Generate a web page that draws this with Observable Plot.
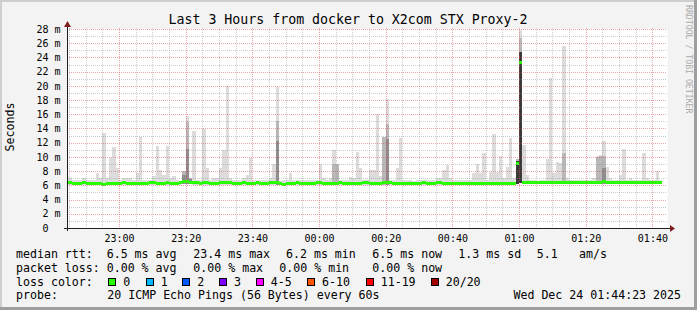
<!DOCTYPE html>
<html><head><meta charset="utf-8">
<script src="https://cdn.jsdelivr.net/npm/d3@7"></script>
<script src="https://cdn.jsdelivr.net/npm/@observablehq/plot@0.6"></script>
<style>
body{margin:0;background:#f3f3f3;}
#chart{width:697px;height:310px;}
text{white-space:pre;}
</style></head><body><div id="chart"></div>
<script>
// ---- data ----
const title = "Last 3 Hours from docker to X2com STX Proxy-2";
const firstMinute = "2025-12-23T22:44:00Z";
const windowStart = "2025-12-23T22:44:23Z";
const windowEnd = "2025-12-24T01:44:23Z";
const xTickLabels = ["23:00","23:20","23:40","00:00","00:20","00:40","01:00","01:20","01:40"];
const yTickValues = [0,2,4,6,8,10,12,14,16,18,20,22,24,26,28];
const yTickLabels = ["0\u00a0\u00a0","2 m","4 m","6 m","8 m","10 m","12 m","14 m","16 m","18 m","20 m","22 m","24 m","26 m","28 m"];

// median rtt per minute (ms)
const medians = [
6.45,6.42,6.40,6.38,6.40,6.42,6.40,6.36,6.34,6.30,6.28,6.26,6.34,6.30,6.32,6.36,6.40,6.42,6.40,6.38,
6.40,6.36,6.34,6.38,6.40,6.42,6.44,6.40,6.38,6.40,6.42,6.40,6.38,6.36,6.45,6.55,6.65,6.52,6.46,6.42,
6.40,6.42,6.44,6.40,6.38,6.40,6.42,6.44,6.46,6.42,6.40,6.38,6.40,6.42,6.40,6.38,6.40,6.42,6.40,6.38,
6.40,6.42,6.44,6.46,6.30,6.26,6.30,6.36,6.40,6.42,6.38,6.40,6.36,6.38,6.40,6.42,6.44,6.40,6.30,6.32,
6.36,6.40,6.42,6.38,6.36,6.34,6.32,6.36,6.40,6.42,6.44,6.40,6.38,6.36,6.40,6.44,6.48,6.42,6.38,6.34,
6.32,6.36,6.40,6.38,6.34,6.36,6.40,6.42,6.38,6.36,6.40,6.42,6.44,6.38,6.32,6.34,6.36,6.40,6.38,6.34,
6.36,6.32,6.30,6.34,6.36,6.38,6.40,6.36,6.32,6.34,6.36,6.38,6.40,6.36,6.40,9.10,23.40,6.50,6.48,6.46,
6.44,6.46,6.48,6.46,6.44,6.46,6.48,6.46,6.44,6.50,6.48,6.46,6.48,6.50,6.48,6.46,6.48,6.50,6.52,6.50,
6.54,6.58,6.50,6.48,6.46,6.48,6.46,6.48,6.50,6.48,6.46,6.48,6.50,6.48,6.46,6.48,6.46,6.48,6.50];

// lowest ping per minute (ms)
const smokeMin = [
6.1,6.1,6.1,6.1,6.1,6.1,6.1,6.1,6.0,6.0,6.0,6.0,6.1,6.0,6.0,6.1,6.1,6.1,6.1,6.1,
6.1,6.1,6.1,6.1,6.1,6.1,6.1,6.1,6.1,6.1,6.1,6.1,6.1,6.1,6.1,6.2,6.2,6.2,6.1,6.1,
6.1,6.1,6.1,6.1,6.1,6.1,6.1,6.1,6.1,6.1,6.1,6.1,6.1,6.1,6.1,6.1,6.1,6.1,6.1,6.1,
6.1,6.1,6.1,6.1,6.0,6.0,6.0,6.1,6.1,6.1,6.1,6.1,6.1,6.1,6.1,6.1,6.1,6.1,6.0,6.0,
6.1,6.1,6.1,6.1,6.1,6.0,6.0,6.1,6.1,6.1,6.1,6.1,6.1,6.1,6.1,6.1,6.1,6.1,6.1,6.0,
6.0,6.1,6.1,6.1,6.0,6.1,6.1,6.1,6.1,6.1,6.1,6.1,6.1,6.1,6.0,6.0,6.1,6.1,6.1,6.0,
6.1,6.0,6.0,6.0,6.1,6.1,6.1,6.1,6.0,6.1,6.1,6.1,6.1,6.1,6.1,6.2,6.3,6.2,6.2,6.2,
6.2,6.2,6.2,6.2,6.2,6.2,6.2,6.2,6.2,6.2,6.2,6.2,6.2,6.2,6.2,6.2,6.2,6.2,6.2,6.2,
6.2,6.2,6.2,6.2,6.2,6.2,6.2,6.2,6.2,6.2,6.2,6.2,6.2,6.2,6.2,6.2,6.2,6.2,6.2];

// highest ping per minute (ms)
const smokeMax = [
7.2,7.1,6.8,6.7,6.7,7.0,6.7,6.7,6.8,7.8,7.0,13.4,7.0,9.9,11.4,8.5,6.7,7.0,7.0,7.1,
6.8,7.7,12.8,6.8,6.7,6.8,7.3,11.5,8.2,7.5,11.5,7.0,7.3,6.7,6.6,8.0,15.8,7.0,13.7,6.7,
6.7,13.9,8.4,6.7,7.0,7.0,8.5,11.0,20.0,7.0,6.7,6.7,6.8,7.0,7.4,9.9,6.8,6.7,6.7,6.7,
6.7,7.0,9.0,19.8,6.6,6.7,6.7,7.8,6.8,6.7,6.7,6.7,6.7,6.7,6.8,6.7,9.0,7.0,6.7,7.0,
11.0,9.0,6.8,6.7,6.7,7.2,7.1,10.7,8.5,6.8,6.7,8.2,8.2,16.0,7.3,12.8,18.1,6.7,6.8,8.4,
12.6,6.7,6.8,6.7,6.6,6.7,6.7,6.8,6.7,6.7,6.8,7.0,7.1,8.1,8.9,7.1,6.7,6.7,6.8,6.7,
6.7,6.8,7.8,9.0,7.8,10.6,6.8,7.9,13.2,7.9,10.1,7.0,8.6,12.6,7.0,9.7,27.8,11.7,7.4,6.7,
6.8,6.6,6.7,6.7,9.7,21.1,7.8,9.3,9.2,25.6,7.0,6.7,6.7,6.8,6.7,6.7,6.7,6.8,7.1,10.1,
10.3,12.3,8.6,7.1,6.7,6.8,7.4,11.1,6.8,7.1,6.7,6.8,6.7,10.6,7.1,6.7,6.7,8.0,6.8];

// denser smoke layers (minute index, top in ms)
const midBars = [35, 36, 37, 63, 80, 81, 95, 96, 135, 136, 149, 159, 160, 161];
const midTops = [8.0, 14.9, 7.0, 15.1, 9.0, 9.0, 12.8, 14.6, 9.7, 26.7, 10.6, 10.0, 10.2, 10.1];
const darkBars = [35, 36, 37, 63, 96, 161];
const darkTops = [7.4, 11.1, 6.9, 12.3, 12.5, 8.4];
const deepBars = [135, 136];
const deepTops = [9.4, 24.8];

const lossLabels = ["0","1","2","3","4-5","6-10","11-19","20/20"];
const lossColors = ["#26ff00","#00b8ff","#0059ff","#7e00ff","#ff00ff","#ff5500","#ff0000","#a10000"];

const statLine1 = ["median rtt:","6.5 ms avg","23.4 ms max","6.2 ms min","6.5 ms now","1.3 ms sd","5.1","am/s"];
const statLine2 = ["packet loss:","0.00 % avg","0.00 % max","0.00 % min","0.00 % now"];
const probeText = ["probe:","20 ICMP Echo Pings (56 Bytes) every 60s","Wed Dec 24 01:44:23 2025"];

// ---- build ----
const t0 = new Date(firstMinute);
const minute = 60000;
const bars = medians.map((m, j) => ({
  t1: new Date(+t0 + j * minute), t2: new Date(+t0 + (j + 1) * minute),
  lo: smokeMin[j], hi: smokeMax[j], med: m
}));
const layer = (idx, tops) => idx.map((j, k) => ({t1: bars[j].t1, t2: bars[j].t2, lo: smokeMin[j], hi: tops[k]}));

const start = new Date(windowStart), end = new Date(windowEnd);
const xTicks = xTickLabels.map(s => {
  const [h, m] = s.split(":").map(Number);
  return new Date(Date.UTC(2025, 11, h >= 22 ? 23 : 24, h, m));
});
const xMinor = d3.utcMinute.every(5).range(start, end).filter(d => !xTicks.some(t => +t === +d));
const yMinor = d3.range(1, 29).filter(v => !yTickValues.includes(v));

const FONT = "DejaVu Sans Mono";
const crisp = {shapeRendering: "crispEdges", clip: true};

const chart = Plot.plot({
  width: 697, height: 310,
  marginLeft: 67, marginRight: 30, marginTop: 28, marginBottom: 82,
  style: {background: "transparent", fontFamily: FONT, fontSize: "10px", color: "#000", overflow: "visible"},
  x: {type: "utc", domain: [start, end], axis: null},
  y: {domain: [0, 28.14], axis: null},
  marks: [
    Plot.frame({fill: "#ffffff", stroke: null}),
    Plot.rect(bars, {x1: "t1", x2: "t2", y1: "lo", y2: "hi", fill: "#dcdcdc", ...crisp}),
    Plot.rect(layer(midBars, midTops), {x1: "t1", x2: "t2", y1: "lo", y2: "hi", fill: "#b8b8b8", ...crisp}),
    Plot.rect(layer(darkBars, darkTops), {x1: "t1", x2: "t2", y1: "lo", y2: "hi", fill: "#8e8e8e", ...crisp}),
    Plot.rect(layer(deepBars, deepTops), {x1: "t1", x2: "t2", y1: "lo", y2: "hi", fill: "#3a3a3a", ...crisp}),
    Plot.ruleY(bars, {y: "med", x1: "t1", x2: "t2", stroke: lossColors[0], strokeWidth: 3, ...crisp}),
    Plot.ruleY(yMinor, {stroke: "#8f8f8f", strokeOpacity: 0.45, strokeDasharray: "1,1", shapeRendering: "crispEdges"}),
    Plot.ruleX(xMinor, {stroke: "#8f8f8f", strokeOpacity: 0.45, strokeDasharray: "1,1", shapeRendering: "crispEdges"}),
    Plot.ruleY(yTickValues.filter(v => v > 0), {stroke: "#de5050", strokeOpacity: 0.5, strokeDasharray: "1,1", shapeRendering: "crispEdges"}),
    Plot.ruleX(xTicks, {stroke: "#de5050", strokeOpacity: 0.5, strokeDasharray: "1,1", shapeRendering: "crispEdges"}),
    Plot.axisY({ticks: yTickValues, tickFormat: (d, i) => yTickLabels[i], tickSize: 0, tickPadding: 7, fontSize: 10, fontFamily: FONT}),
    Plot.axisX({ticks: xTicks, tickFormat: d3.utcFormat("%H:%M"), tickSize: 0, tickPadding: 6, fontSize: 10, fontFamily: FONT})
  ]
});
document.getElementById("chart").appendChild(chart);

// ---- decorations ----
const svg = d3.select(chart);
const xs = chart.scale("x"), ys = chart.scale("y");
const X0 = xs.apply(start), X1 = xs.apply(end), Y0 = ys.apply(0), Ytop = ys.apply(28.14);
// axes
svg.append("line").attr("x1", X0 - 3).attr("x2", X1 + 4).attr("y1", Y0 + 0.5).attr("y2", Y0 + 0.5)
  .attr("stroke", "#1f1f1f").attr("shape-rendering", "crispEdges");
svg.append("line").attr("x1", X0 + 0.5).attr("x2", X0 + 0.5).attr("y1", Y0 + 3).attr("y2", Ytop - 4)
  .attr("stroke", "#1f1f1f").attr("shape-rendering", "crispEdges");
svg.append("path").attr("d", `M${X1 + 3},${Y0 - 3} L${X1 + 8},${Y0 + 0.5} L${X1 + 3},${Y0 + 4} Z`).attr("fill", "#7f1f1f");
svg.append("path").attr("d", `M${X0 - 3},${Ytop - 1} L${X0 + 0.5},${Ytop - 7} L${X0 + 4},${Ytop - 1} Z`).attr("fill", "#7f1f1f");
// frame shading
svg.append("rect").attr("x", 0).attr("y", 0).attr("width", 697).attr("height", 2).attr("fill", "#cfcfcf");
svg.append("rect").attr("x", 0).attr("y", 0).attr("width", 2).attr("height", 310).attr("fill", "#cfcfcf");
svg.append("rect").attr("x", 0).attr("y", 307).attr("width", 697).attr("height", 3).attr("fill", "#9e9e9e");
svg.append("rect").attr("x", 694).attr("y", 0).attr("width", 3).attr("height", 310).attr("fill", "#9e9e9e");

function txt(x, y, s, o = {}) {
  return svg.append("text").attr("x", x).attr("y", y).text(s)
    .attr("font-family", FONT).attr("font-size", o.size || 11.6).attr("fill", o.fill || "#000")
    .attr("text-anchor", o.anchor || "start").attr("transform", o.transform || null);
}
txt(348, 23.5, title, {size: 13.25, anchor: "middle"});
txt(0, 0, "Seconds", {size: 11.6, anchor: "middle", transform: "translate(14,127) rotate(-90)"});
txt(0, 0, "RRDTOOL / TOBI OETIKER", {size: 8.2, fill: "#ababab", transform: "translate(685.5,5) rotate(90)"});

const L1x = [16, 106.7, 193.3, 286, 372.3, 458.3, 536.7, 579];
statLine1.forEach((s, i) => txt(L1x[i], 258.3, s));
const L2x = [16, 106.7, 193.3, 279.3, 372.3];
statLine2.forEach((s, i) => txt(L2x[i], 271.8, s));
txt(16, 285.6, "loss color:");
const sqx = [108.3, 145.7, 182.3, 219, 255.7, 307, 365.7, 430.7];
lossLabels.forEach((s, i) => {
  svg.append("rect").attr("x", Math.round(sqx[i]) + 0.5).attr("y", 278.5).attr("width", 7).attr("height", 7)
    .attr("fill", lossColors[i]).attr("stroke", "#000").attr("stroke-width", 1);
  txt(sqx[i] + 15, 285.6, s);
});
txt(16, 299.3, probeText[0]);
txt(107.3, 299.3, probeText[1]);
txt(681, 299.3, probeText[2], {anchor: "end"});
</script></body></html>
